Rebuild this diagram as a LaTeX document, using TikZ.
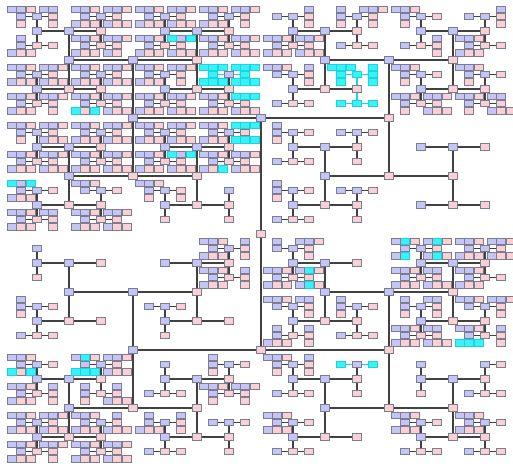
\documentclass[tikz,border=0pt]{standalone}
\usepackage{tikz}
\definecolor{bluefill}{RGB}{196,196,246}
\definecolor{pinkfill}{RGB}{250,208,210}
\definecolor{boxline}{RGB}{125,125,145}
\definecolor{edgecol}{RGB}{65,65,65}
\definecolor{cyanfill}{RGB}{60,240,246}
\definecolor{cyanline}{RGB}{20,215,228}
\tikzset{
  bx/.style={draw=boxline,line width=0.6pt,minimum width=9pt,minimum height=6.5pt,inner sep=0pt,outer sep=0pt},
  bbox/.style={bx,fill=bluefill},
  pbox/.style={bx,fill=pinkfill},
  cbox/.style={bx,fill=cyanfill,draw=cyanline},
  link/.style={draw=edgecol,line width=1.2pt},
  clink/.style={draw=cyanline,line width=1.2pt}
}
\newif\ifnodepass
\makeatletter
\def\tstr{}
\def\popc{\expandafter\popc@\tstr\@nil}
\def\popc@#1#2\@nil{\gdef\cc{#1}\gdef\tstr{#2}}
\def\getoff#1{\ifcase#1 0\or116\or128\or58\or64\or29\or32\or14.5\or16\or7.3\or9.6\fi}
\newcommand\setcell[3]{\expandafter\def\csname cell#1-#2\endcsname{#3}}
\newcommand\bld[7]{%
  \begingroup
  \def\ex{1}\def\cy{0}\def\chm{#7}%
  \if#7p%
    \popc
    \if\cc.\def\ex{0}\fi
    \if\cc o\def\chm{n}\fi
    \if\cc x\def\chm{p}\fi
    \if\cc F\def\chm{f}\fi
    \if\cc c\def\cy{1}\def\chm{n}\fi
    \if\cc C\def\cy{1}\def\chm{p}\fi
    \if\cc K\def\cy{1}\def\chm{k}\fi
  \fi
  \if#7k\def\cy{1}\fi
  \ifnum\ex=1
    \ifnum\cy=1 \def\sty{cbox}\def\lsty{clink}%
    \else\if#6a\def\sty{bbox}\else\def\sty{pbox}\fi\def\lsty{link}\fi
    \ifnodepass
      \node[\sty] (#4) at (#1,#2) {};
    \else
      \coordinate (k#4) at (#1,#2);
      \ifx\relax#5\relax\else
        \draw[\lsty] (k#5) -- (k#4);
      \fi
    \fi
    \if#7s\ifnum#3=6
        \pgfmathtruncatemacro\ci{round((#1-37)/64)+1}%
        \pgfmathtruncatemacro\ri{round((#2-31)/58)+1}%
        \xdef\tstr{\csname cell\ci-\ri\endcsname..............................}%
        \def\chm{p}%
    \fi\fi
    \ifnum#3<10 \if\chm n\else
       \edef\nd{\the\numexpr#3+1\relax}%
       \edef\off{\getoff\nd}%
       \ifodd\nd
         \pgfmathsetmacro\xa{#1}\pgfmathsetmacro\xb{#1}%
         \pgfmathsetmacro\ya{#2-\off}\pgfmathsetmacro\yb{#2+\off}%
       \else
         \pgfmathsetmacro\xa{#1-\off}\pgfmathsetmacro\xb{#1+\off}%
         \pgfmathsetmacro\ya{#2}\pgfmathsetmacro\yb{#2}%
       \fi
       \edef\next{\noexpand\bld{\xa}{\ya}{\nd}{#4a}{#4}{a}{\chm}\noexpand\bld{\xb}{\yb}{\nd}{#4b}{#4}{b}{\chm}}%
       \next
    \fi\fi
  \fi
  \endgroup}
\makeatother
% cells: column-row
\setcell{1}{1}{xxFoxxo.oxxoFo}
\setcell{2}{1}{FxFxFxo.}
\setcell{3}{1}{FxFxxccF}
\setcell{4}{1}{xFxFoF}
\setcell{5}{1}{xoxooF}
\setcell{6}{1}{xxooxFoxoo}
\setcell{7}{1}{xxFooxoxoo}
\setcell{8}{1}{xoxooxFo}
\setcell{1}{2}{FxFxFo}
\setcell{2}{2}{FxxFxccF}
\setcell{3}{2}{xFxFoF}
\setcell{4}{2}{xKKxFxKF}
\setcell{5}{2}{xxF.xooxoo}
\setcell{6}{2}{CCCcccCccCcc}
\setcell{7}{2}{xxFooxxFoF}
\setcell{8}{2}{xxFooxxFoxxo.F}
\setcell{1}{3}{xxFoFF}
\setcell{2}{3}{FF}
\setcell{3}{3}{FxFxxccF}
\setcell{4}{3}{xFxKKxxFxocF}
\setcell{5}{3}{xxoooxoo}
\setcell{6}{3}{xooo}
\setcell{7}{3}{..}
\setcell{8}{3}{..}
\setcell{1}{4}{xxxccFoxFxxo.o}
\setcell{2}{4}{xxF.oF}
\setcell{3}{4}{xxFox.oo}
\setcell{4}{4}{oo}
\setcell{5}{4}{xxoooxoo}
\setcell{6}{4}{xooo}
\setcell{7}{4}{..}
\setcell{8}{4}{..}
\setcell{1}{5}{oo}
\setcell{2}{5}{..}
\setcell{3}{5}{..}
\setcell{4}{5}{xFxooxFxoo}
\setcell{5}{5}{xxo.xFoxFxCooCoo}
\setcell{6}{5}{..}
\setcell{7}{5}{xxCooCo.xCooCooxFxxo.F}
\setcell{8}{5}{FxFo}
\setcell{1}{6}{xxoooxoo}
\setcell{2}{6}{..}
\setcell{3}{6}{xooo}
\setcell{4}{6}{..}
\setcell{5}{6}{xxF.xxo.oxxoFxoo}
\setcell{6}{6}{xxoooxoo}
\setcell{7}{6}{xxooxxo.oxFxxo.F}
\setcell{8}{6}{xxF.xFoxxFKxoo}
\setcell{1}{7}{xxFxccoxFxoo}
\setcell{2}{7}{xxCooKFxxooxoF}
\setcell{3}{7}{oxoo}
\setcell{4}{7}{xxoooxxFoxFo}
\setcell{5}{7}{xxFoxooxoo}
\setcell{6}{7}{xcco}
\setcell{7}{7}{oo}
\setcell{8}{7}{x.oxoo}
\setcell{1}{8}{FxFxFo}
\setcell{2}{8}{xFxoFF}
\setcell{3}{8}{xxoFxooxoo}
\setcell{4}{8}{xooo}
\setcell{5}{8}{xFoxoo}
\setcell{6}{8}{..}
\setcell{7}{8}{xFoxoo}
\setcell{8}{8}{xFoxoo}
\begin{document}
\begin{tikzpicture}[x=1pt,y=-1pt]
\path[use as bounding box, fill=white] (0,0) rectangle (513,466);
\nodepassfalse
\bld{261}{234}{0}{n}{}{r}{s}
\nodepasstrue
\bld{261}{234}{0}{n}{}{r}{s}
\end{tikzpicture}
\end{document}
